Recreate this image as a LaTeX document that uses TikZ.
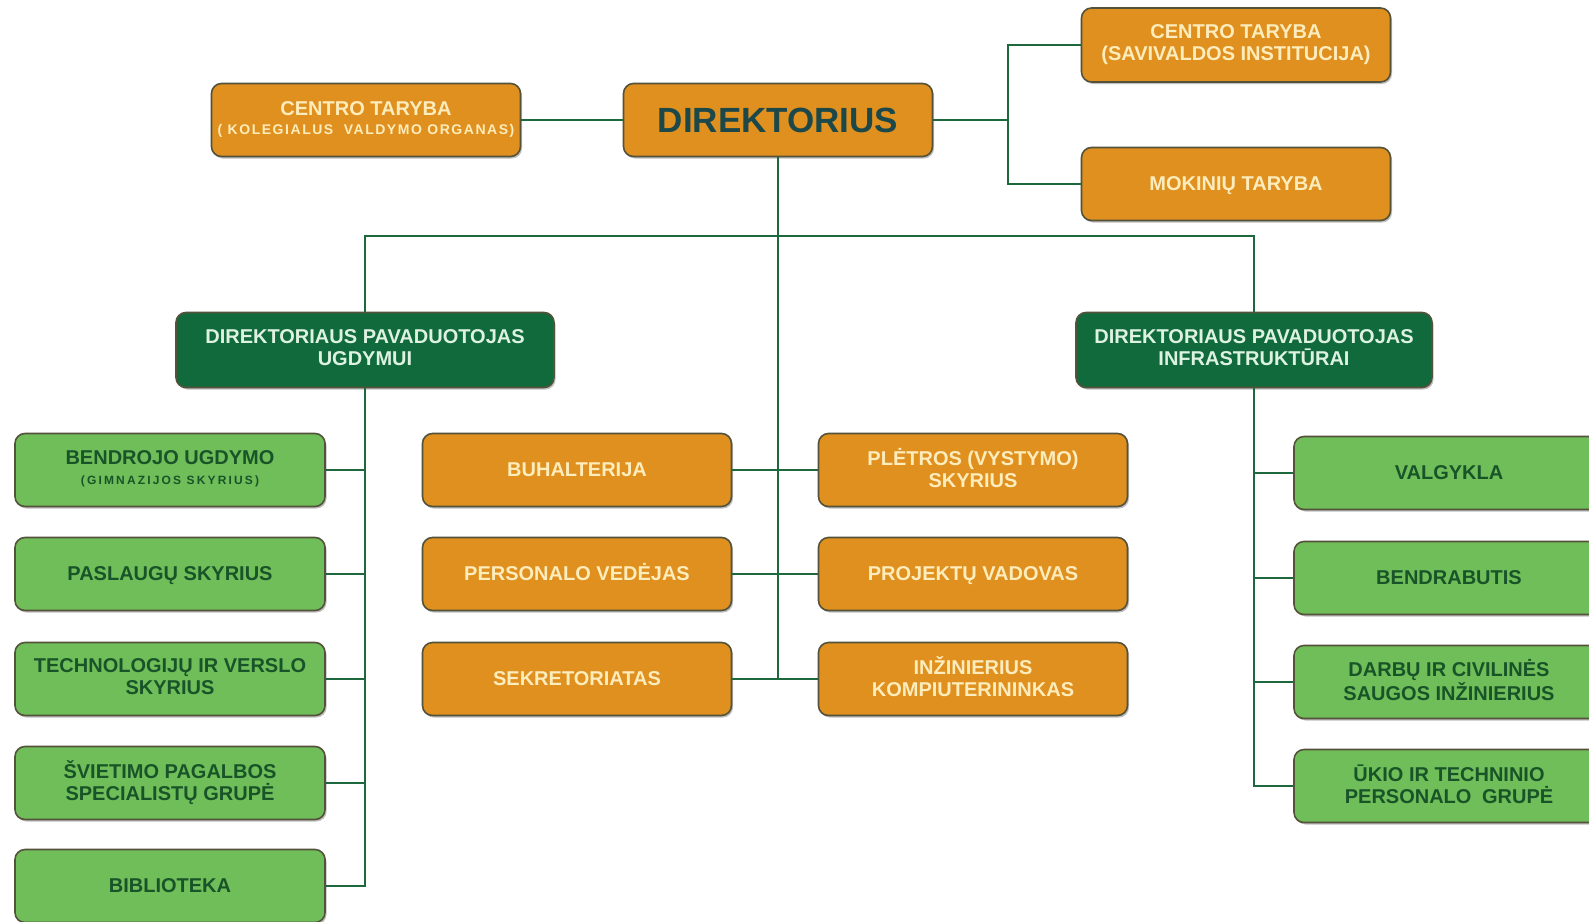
\documentclass[tikz,border=0pt]{standalone}
\usepackage{fontspec}
\setmainfont{Liberation Sans}
\newfontfamily\spacedA[LetterSpace=11]{Liberation Sans}
\newfontfamily\spacedB[LetterSpace=18]{Liberation Sans}
\usetikzlibrary{shadows}
\definecolor{orfill}{RGB}{224,144,30}
\definecolor{ortext}{RGB}{253,236,188}
\definecolor{dirtext}{RGB}{28,72,74}
\definecolor{dkfill}{RGB}{16,106,60}
\definecolor{dktext}{RGB}{222,242,226}
\definecolor{ltfill}{RGB}{112,190,90}
\definecolor{lttext}{RGB}{24,84,40}
\definecolor{boxline}{RGB}{84,82,58}
\definecolor{lncolor}{RGB}{30,104,62}
\tikzset{
  box/.style={rounded corners=10pt, draw=boxline, line width=1.6pt, inner sep=0pt, align=center,
    font=\bfseries\fontsize{20}{22}\selectfont,
    execute at begin node={\vphantom{Š}}, execute at end node={\vphantom{Ų}},
    drop shadow={shadow xshift=1.5pt,shadow yshift=-2pt,opacity=0.25,fill=black}},
  orbox/.style={box, fill=orfill, text=ortext, minimum width=309pt, minimum height=73pt},
  dkbox/.style={box, fill=dkfill, text=dktext, minimum height=75pt},
  ltbox/.style={box, fill=ltfill, text=lttext, minimum width=310pt, minimum height=73pt},
  conn/.style={draw=lncolor, line width=2pt}
}
\begin{document}
\begin{tikzpicture}[x=1pt,y=-1pt]
\clip (0,0) rectangle (1589,921);
\fill[white] (0,0) rectangle (1589,921);
% top row
\node[orbox] (ct1) at (366,120) {CENTRO TARYBA\\[-3pt]{\spacedA\fontsize{14}{15}\selectfont( KOLEGIALUS\hspace{5pt} VALDYMO ORGANAS)}};
\node[orbox, text=dirtext, font=\bfseries\fontsize{35}{37}\selectfont] (dir) at (778,120) {DIREKTORIUS};
\node[orbox, minimum height=74pt] (ct2) at (1236,45) {CENTRO TARYBA\\(SAVIVALDOS INSTITUCIJA)};
\node[orbox] (mok) at (1236,184) {MOKINIŲ TARYBA};
% deputies
\node[dkbox, minimum width=378pt] (depL) at (365,350) {DIREKTORIAUS PAVADUOTOJAS\\UGDYMUI};
\node[dkbox, minimum width=356pt] (depR) at (1254,350) {DIREKTORIAUS PAVADUOTOJAS\\INFRASTRUKTŪRAI};
% left column
\node[ltbox] (g1) at (170,470) {BENDROJO UGDYMO\\[-2pt]{\spacedB\fontsize{12}{13}\selectfont(GIMNAZIJOS SKYRIUS)}};
\node[ltbox] (g2) at (170,574) {PASLAUGŲ SKYRIUS};
\node[ltbox] (g3) at (170,679) {TECHNOLOGIJŲ IR VERSLO\\SKYRIUS};
\node[ltbox] (g4) at (170,783) {ŠVIETIMO PAGALBOS\\SPECIALISTŲ GRUPĖ};
\node[ltbox] (g5) at (170,886) {BIBLIOTEKA};
% middle
\node[orbox] (m1) at (577,470) {BUHALTERIJA};
\node[orbox] (m2) at (577,574) {PERSONALO VEDĖJAS};
\node[orbox] (m3) at (577,679) {SEKRETORIATAS};
\node[orbox] (n1) at (973,470) {PLĖTROS (VYSTYMO)\\SKYRIUS};
\node[orbox] (n2) at (973,574) {PROJEKTŲ VADOVAS};
\node[orbox] (n3) at (973,679) {INŽINIERIUS\\KOMPIUTERININKAS};
% right column
\node[ltbox] (r1) at (1449,473) {VALGYKLA};
\node[ltbox] (r2) at (1449,578) {BENDRABUTIS};
\node[ltbox] (r3) at (1449,682) {DARBŲ IR CIVILINĖS\\SAUGOS INŽINIERIUS};
\node[ltbox] (r4) at (1449,786) {ŪKIO IR TECHNINIO\\PERSONALO\hspace{5pt} GRUPĖ};
% coordinates
\coordinate (jr) at (1008,120);
\coordinate (bus) at (778,236);
\coordinate (midend) at (778,679);
% connectors
\draw[conn] (ct1.east) -- (dir.west);
\draw[conn] (dir.east) -- (jr);
\draw[conn] (jr) |- (ct2.west);
\draw[conn] (jr) |- (mok.west);
\draw[conn] (dir.south) -- (midend);
\draw[conn] (depL.north) |- (bus) -| (depR.north);
\draw[conn] (m1.east) -- (n1.west);
\draw[conn] (m2.east) -- (n2.west);
\draw[conn] (m3.east) -- (n3.west);
\draw[conn] (depL.south) |- (g5.east);
\foreach \g in {g1,g2,g3,g4} \draw[conn] (\g.east) -- (\g.east -| depL.south);
\draw[conn] (depR.south) |- (r4.west);
\foreach \r in {r1,r2,r3} \draw[conn] (\r.west) -- (\r.west -| depR.south);
\end{tikzpicture}
\end{document}
